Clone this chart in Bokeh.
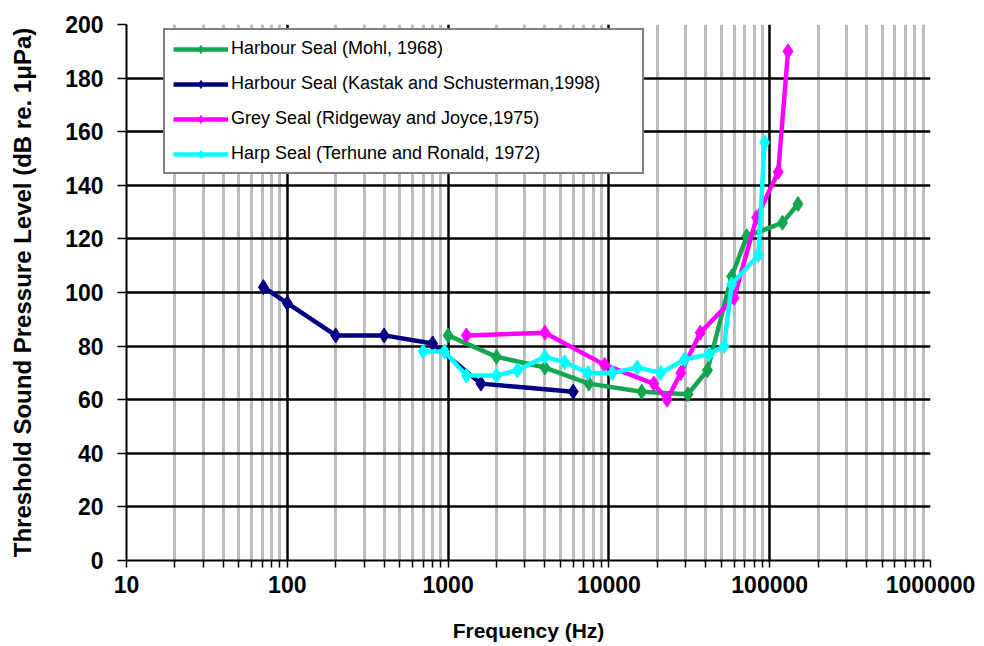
from bokeh.plotting import figure
from bokeh.models import FixedTicker, Legend, LegendItem, Range1d
from bokeh.embed import file_html
from bokeh.resources import INLINE

# ---- data ----
mohl_freq = [1000, 2000, 4000, 7500, 16000, 31000, 41000, 58000, 72000, 120000, 150000]
mohl_db = [84, 76, 72, 66, 63, 62, 71, 106, 121, 126, 133]

kastak_freq = [71, 100, 200, 400, 800, 1600, 6000]
kastak_db = [102, 96, 84, 84, 81, 66, 63]

ridgeway_freq = [1300, 4000, 9400, 19000, 23000, 28000, 37000, 60000, 83000, 113000, 130000]
ridgeway_db = [84, 85, 73, 66, 60, 70, 85, 98, 128, 145, 190]

terhune_freq = [700, 950, 1300, 2000, 2700, 4000, 5300, 7400, 10500, 15000, 21000,
                29600, 42000, 52000, 58000, 85000, 93000]
terhune_db = [78, 78, 69, 69, 71, 76, 74, 70, 70, 72, 70, 75, 77, 80, 103, 114, 156]

series_names = ["Harbour Seal (Mohl, 1968)",
                "Harbour Seal (Kastak and Schusterman,1998)",
                "Grey Seal (Ridgeway and Joyce,1975)",
                "Harp Seal (Terhune and Ronald, 1972)"]
series_colors = ["#14A550", "#000080", "#FF00FF", "#00FFFF"]

x_ticks = [10, 100, 1000, 10000, 100000, 1000000]
x_tick_labels = ["10", "100", "1000", "10000", "100000", "1000000"]
y_ticks = [0, 20, 40, 60, 80, 100, 120, 140, 160, 180, 200]

x_minor = [m * d for d in x_ticks[:-1] for m in range(2, 10)]

p = figure(width=984, height=646, x_axis_type="log",
           x_range=Range1d(10, 1000000), y_range=Range1d(0, 200),
           output_backend="svg", toolbar_location=None,
           min_border_left=126, min_border_right=54,
           min_border_top=24, min_border_bottom=86)
p.outline_line_color = None
p.background_fill_color = "white"
p.border_fill_color = "white"

xt = FixedTicker(ticks=x_ticks, minor_ticks=x_minor)
yt = FixedTicker(ticks=y_ticks)
p.xaxis.ticker = xt
p.yaxis.ticker = yt
p.xgrid.ticker = xt
p.ygrid.ticker = yt

p.xgrid.grid_line_color = "black"
p.xgrid.grid_line_width = 2.5
p.xgrid.minor_grid_line_color = "#bdbdbd"
p.xgrid.minor_grid_line_width = 3
p.ygrid.grid_line_color = "black"
p.ygrid.grid_line_width = 2.5

p.xaxis.major_label_overrides = {t: l for t, l in zip(x_ticks, x_tick_labels)}

for ax in (p.xaxis, p.yaxis):
    ax.axis_line_color = "black"
    ax.axis_line_width = 2
    ax.major_tick_line_color = "black"
    ax.major_tick_line_width = 1.5
    ax.major_tick_in = 0
    ax.major_label_text_font = "Liberation Sans"
    ax.major_label_text_font_style = "bold"
    ax.major_label_text_font_size = "23px"
    ax.major_label_text_color = "black"
    ax.axis_label_text_font = "Liberation Sans"
    ax.axis_label_text_font_style = "bold"
    ax.axis_label_text_color = "black"

p.xaxis.major_tick_out = 7
p.xaxis.minor_tick_out = 7
p.xaxis.minor_tick_in = 0
p.xaxis.minor_tick_line_color = "black"
p.xaxis.minor_tick_line_width = 1.5
p.xaxis.major_label_standoff = 8
p.xaxis.axis_label = "Frequency (Hz)"
p.xaxis.axis_label_text_font_size = "21px"
p.xaxis.axis_label_standoff = 23

p.yaxis.major_tick_out = 9
p.yaxis.minor_tick_line_color = None
p.yaxis.major_label_standoff = 14
p.yaxis.axis_label = "Threshold Sound Pressure Level (dB re. 1\u03bcPa)"
p.yaxis.axis_label_text_font_size = "24px"
p.yaxis.axis_label_standoff = 26

items = []
for name, color, fx, fy in zip(series_names, series_colors,
                               [mohl_freq, kastak_freq, ridgeway_freq, terhune_freq],
                               [mohl_db, kastak_db, ridgeway_db, terhune_db]):
    ln = p.line(fx, fy, line_color=color, line_width=4.5)
    sc = p.scatter(fx, fy, marker="diamond", size=15, fill_color=color,
                   line_color=color)
    items.append(LegendItem(label=name, renderers=[ln, sc]))

legend = Legend(items=items, location=(37, 386))
legend.label_text_font = "Liberation Sans"
legend.label_text_font_size = "18px"
legend.label_text_color = "black"
legend.glyph_width = 55
legend.glyph_height = 20
legend.label_height = 20
legend.spacing = 14
legend.padding = 8
legend.margin = 0
legend.label_standoff = 3
legend.label_width = 403
legend.border_line_color = "black"
legend.border_line_width = 2
legend.background_fill_color = "white"
legend.background_fill_alpha = 1
p.add_layout(legend)

open("out.html", "w").write(file_html(p, INLINE))
